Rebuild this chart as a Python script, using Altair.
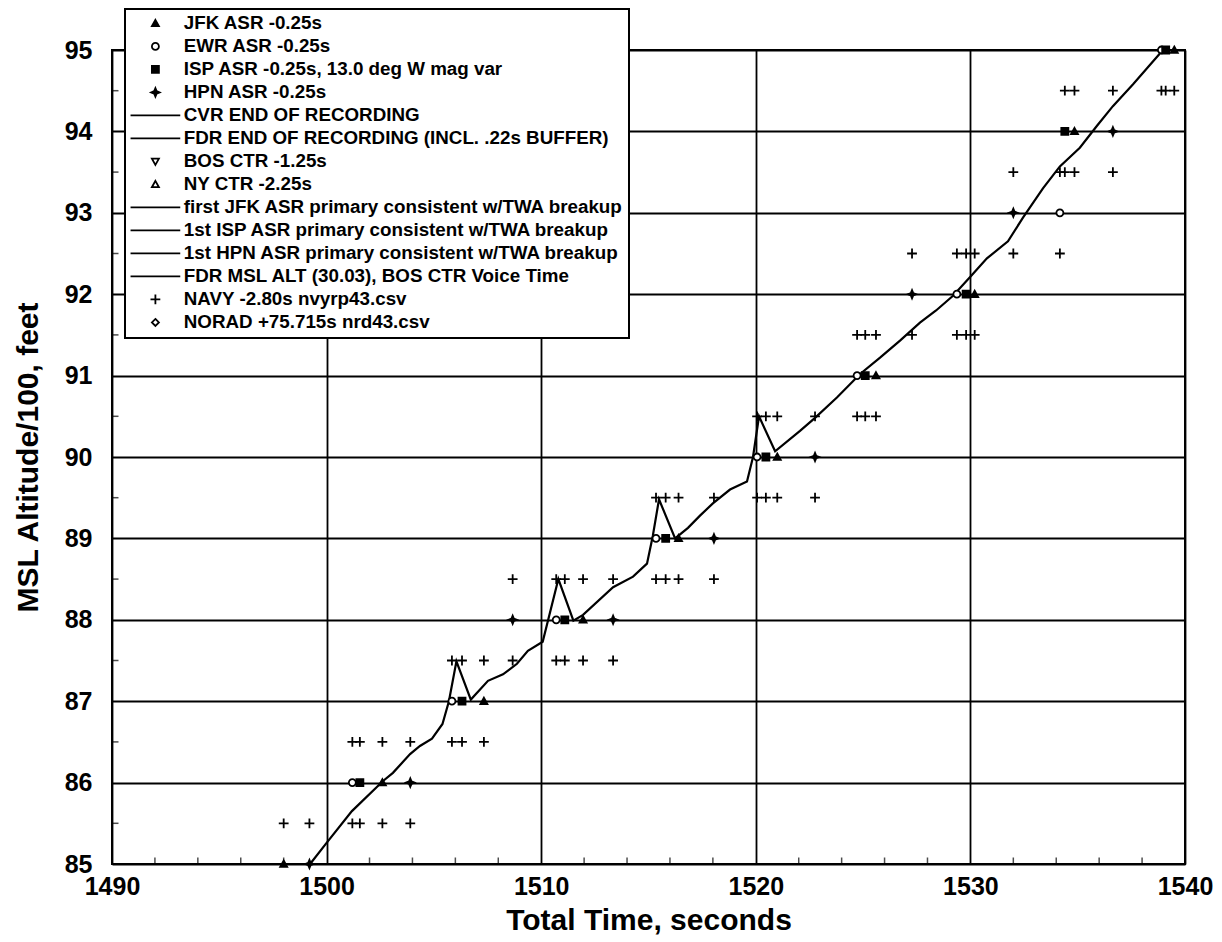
import altair as alt
import pandas as pd

FONT = "Liberation Sans"

# ---------------- legend entries (in order) ----------------
labels = [
    "JFK ASR -0.25s",
    "EWR ASR -0.25s",
    "ISP ASR -0.25s, 13.0 deg W mag var",
    "HPN ASR -0.25s",
    "CVR END OF RECORDING",
    "FDR END OF RECORDING (INCL. .22s BUFFER)",
    "BOS CTR -1.25s",
    "NY CTR -2.25s",
    "first JFK ASR primary consistent w/TWA breakup",
    "1st ISP ASR primary consistent w/TWA breakup",
    "1st HPN ASR primary consistent w/TWA breakup",
    "FDR MSL ALT (30.03), BOS CTR Voice Time",
    "NAVY -2.80s nvyrp43.csv",
    "NORAD +75.715s nrd43.csv",
]
LINE = "M-7.1,0H7.1"
TRI = "M0,-1L1,0.8L-1,0.8Z"
TRI_DOWN = "M0,1L1,-0.8L-1,-0.8Z"
STAR = "M0,-1.2L0.35,-0.35L1.2,0L0.35,0.35L0,1.2L-0.35,0.35L-1.2,0L-0.35,-0.35Z"
PLUS = "M-1.4,0H1.4M0,-1.4V1.4"
DIAMOND = "M0,-1L1,0L0,1L-1,0Z"
shapes = [TRI, "circle", "square", STAR, LINE, LINE, TRI_DOWN, TRI,
          LINE, LINE, LINE, LINE, PLUS, DIAMOND]
fills = ["black", "white", "black", "black", "transparent", "transparent",
         "white", "white", "transparent", "transparent", "transparent",
         "transparent", "transparent", "white"]
strokes = ["black"] * len(labels)

# ---------------- radar returns ----------------
jfk_t = [1498.0, 1502.6, 1507.33, 1511.95, 1516.4, 1521.0, 1525.6, 1530.2, 1534.85, 1539.5]
jfk_alt = [85, 86, 87, 88, 89, 90, 91, 92, 94, 95]
ewr_t = [1501.2, 1505.84, 1510.7, 1515.35, 1520.06, 1524.72, 1529.37, 1534.17, 1538.9]
ewr_alt = [86, 87, 88, 89, 90, 91, 92, 93, 95]
isp_t = [1501.55, 1506.31, 1511.1, 1515.8, 1520.47, 1525.1, 1529.8, 1534.4, 1539.1]
isp_alt = [86, 87, 88, 89, 90, 91, 92, 94, 95]
hpn_t = [1499.2, 1503.9, 1508.67, 1513.35, 1518.05, 1522.76, 1527.28, 1532.0, 1536.64]
hpn_alt = [85, 86, 88, 88, 89, 90, 92, 93, 94]

navy_t = [1498.0, 1499.2, 1501.2, 1501.55, 1502.6, 1503.9,
          1501.2, 1501.55, 1502.6, 1503.9, 1505.84, 1506.31, 1507.33,
          1505.84, 1506.31, 1507.33, 1508.67, 1510.7, 1511.1, 1511.95, 1513.35,
          1508.67, 1510.7, 1511.1, 1511.95, 1513.35, 1515.35, 1515.8, 1516.4, 1518.05,
          1515.35, 1515.8, 1516.4, 1518.05, 1520.06, 1520.47, 1521.0, 1522.76,
          1520.06, 1520.47, 1521.0, 1522.76, 1524.72, 1525.1, 1525.6,
          1524.72, 1525.1, 1525.6, 1527.28, 1529.37, 1529.8, 1530.2,
          1527.28, 1529.37, 1529.8, 1530.2, 1532.0, 1534.17,
          1532.0, 1534.17, 1534.4, 1534.85, 1536.64,
          1534.4, 1534.85, 1536.64, 1538.9, 1539.1, 1539.5]
navy_alt = [85.5] * 6 + [86.5] * 7 + [87.5] * 8 + [88.5] * 9 + [89.5] * 8 + \
           [90.5] * 7 + [91.5] * 7 + [92.5] * 6 + [93.5] * 5 + [94.5] * 6

# ---------------- FDR MSL altitude line ----------------
fdr_t = [1499.23, 1500.0, 1501.18, 1502.63, 1503.09, 1503.89, 1504.35, 1504.91, 1505.4,
         1505.7, 1506.05, 1506.72, 1507.52, 1508.22, 1508.87, 1509.38, 1510.07, 1510.8,
         1511.5, 1511.95, 1513.35, 1514.28, 1514.93, 1515.2, 1515.49, 1516.24, 1516.84,
         1517.4, 1518.0, 1518.8, 1519.59, 1519.87, 1520.15, 1520.9, 1522.06, 1522.76,
         1523.78, 1524.86, 1525.79, 1526.72, 1527.65, 1528.4, 1529.19, 1530.05, 1530.77,
         1531.75, 1532.45, 1533.38, 1534.17, 1535.1, 1535.9, 1536.64, 1537.58, 1538.84]
fdr_alt = [85.0, 85.26, 85.65, 86.02, 86.12, 86.35, 86.45, 86.54, 86.72,
           87.0, 87.49, 87.02, 87.25, 87.33, 87.46, 87.62, 87.73, 88.5,
           87.99, 88.06, 88.4, 88.53, 88.69, 89.03, 89.48, 89.0, 89.13,
           89.28, 89.43, 89.6, 89.7, 90.0, 90.5, 90.07, 90.32, 90.48,
           90.73, 91.02, 91.22, 91.43, 91.65, 91.8, 91.98, 92.23, 92.44,
           92.65, 92.94, 93.3, 93.57, 93.8, 94.07, 94.31, 94.58, 94.96]

# ---------------- axes ticks ----------------
x_labels = [1490, 1500, 1510, 1520, 1530, 1540]
y_labels = [85, 86, 87, 88, 89, 90, 91, 92, 93, 94, 95]
x_minor = [1492, 1494, 1496, 1498, 1502, 1504, 1506, 1508, 1512, 1514, 1516, 1518,
           1522, 1524, 1526, 1528, 1532, 1534, 1536, 1538]
y_minor = [85.5, 86.5, 87.5, 88.5, 89.5, 90.5, 91.5, 92.5, 93.5, 94.5]

# ---------------- tables ----------------
rows = []
for name, ts, als in [(labels[0], jfk_t, jfk_alt), (labels[1], ewr_t, ewr_alt),
                      (labels[2], isp_t, isp_alt), (labels[3], hpn_t, hpn_alt),
                      (labels[12], navy_t, navy_alt)]:
    for t, a in zip(ts, als):
        rows.append({"t": t, "alt": a, "series": name})
points = pd.DataFrame(rows)
fdr = pd.DataFrame({"t": fdr_t, "alt": fdr_alt})
xmin_df = pd.DataFrame({"t": x_minor, "alt": [85] * len(x_minor)})
ymin_df = pd.DataFrame({"t": [1490] * len(y_minor), "alt": y_minor})

x_scale = alt.Scale(domain=[1490, 1540], nice=False, zero=False)
y_scale = alt.Scale(domain=[85, 95], nice=False, zero=False)

x_axis = alt.Axis(values=x_labels, format="d", labelFont=FONT, labelFontSize=25,
                  labelFontWeight="bold", labelColor="black", labelPadding=10,
                  labelFlush=False, ticks=False, domain=False, grid=True,
                  gridColor="black", gridWidth=1.8, gridOpacity=1,
                  title="Total Time, seconds", titleFont=FONT, titleFontSize=30,
                  titleFontWeight="bold", titleColor="black", titlePadding=6)
y_axis = alt.Axis(values=y_labels, format="d", labelFont=FONT, labelFontSize=25,
                  labelFontWeight="bold", labelColor="black", labelPadding=20,
                  labelFlush=False, ticks=False, domain=False, grid=True,
                  gridColor="black", gridWidth=1.8, gridOpacity=1,
                  title="MSL Altitude/100, feet", titleFont=FONT, titleFontSize=30,
                  titleFontWeight="bold", titleColor="black", titlePadding=21)

X = alt.X("t:Q", scale=x_scale, axis=x_axis)
Y = alt.Y("alt:Q", scale=y_scale, axis=y_axis)

legend = alt.Legend(title=None, orient="none", legendX=13, legendY=-41,
                    direction="vertical", labelFont=FONT, labelFontSize=18.8,
                    labelFontWeight="bold", labelColor="black", labelLimit=800,
                    labelOffset=19, symbolOffset=16, symbolSize=49,
                    symbolStrokeWidth=1.8, rowPadding=3, padding=5,
                    strokeColor="black", fillColor="white", cornerRadius=0)

line = alt.Chart(fdr).mark_line(color="black", strokeWidth=2.2).encode(x=X, y=Y)

pts = alt.Chart(points).mark_point(strokeWidth=1.8, size=49, opacity=1).encode(
    x=X, y=Y,
    shape=alt.Shape("series:N", scale=alt.Scale(domain=labels, range=shapes),
                    legend=legend),
    fill=alt.Fill("series:N", scale=alt.Scale(domain=labels, range=fills),
                  legend=legend),
    stroke=alt.Stroke("series:N", scale=alt.Scale(domain=labels, range=strokes),
                      legend=legend),
)

xticks = alt.Chart(xmin_df).mark_tick(orient="vertical", size=7, thickness=1.5,
                                       color="black", yOffset=-3).encode(x=X, y=Y)
yticks = alt.Chart(ymin_df).mark_tick(orient="horizontal", size=7, thickness=1.5,
                                       color="black", xOffset=3).encode(x=X, y=Y)

chart = alt.layer(xticks, yticks, line, pts).properties(
    width=1073, height=814,
    padding={"left": 5, "top": 0, "right": 0, "bottom": 0},
    background="white"
).configure_view(stroke="black", strokeWidth=2).configure_legend(strokeWidth=2)

chart.save("out.html", embed_options={"renderer": "svg", "actions": False})
